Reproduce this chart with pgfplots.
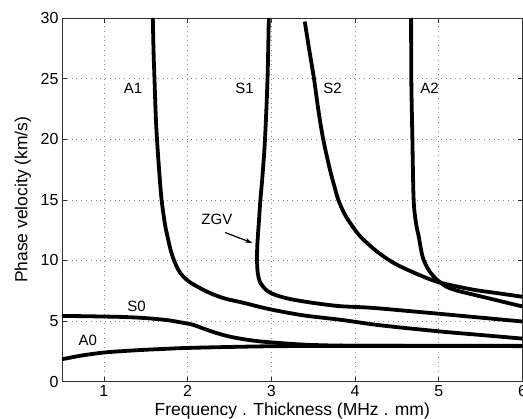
\documentclass[border=0pt]{standalone}
\usepackage{fontspec}
\setmainfont{Liberation Sans}
\usepackage{pgfplots}
\pgfplotsset{compat=1.18}
\usetikzlibrary{calc,arrows.meta}

\begin{document}
\begin{tikzpicture}
\begin{axis}[
    scale only axis,
    width=461pt, height=364pt,
    xmin=0.5, xmax=6, ymin=0, ymax=30,
    xtick={1,2,3,4,5,6}, ytick={0,5,10,15,20,25,30},
    tick align=inside, tick pos=both,
    major tick length=5pt,
    axis line style={black!80, line width=0.7pt},
    every tick/.style={black!80, line width=0.6pt},
    grid=major,
    grid style={black!45, line width=0.6pt, dash pattern=on 0.8pt off 4pt},
    /pgf/number format/assume math mode=true,
    tick label style={font=\fontsize{16}{18}\selectfont},
    xlabel={Frequency . Thickness (MHz . mm)},
    ylabel={Phase velocity (km/s)},
    label style={font=\fontsize{17.5}{20}\selectfont},
    xlabel style={at={(axis description cs:0.5,-0.092)}, anchor=base},
    ylabel style={at={(axis description cs:-0.0846,0.5)}, anchor=center},
    every axis plot post/.append style={black, solid, mark=none, line width=3.8pt,
      line join=round, smooth, tension=0.55},
]
% A0
\addplot coordinates {(0.5,1.85)(0.6,1.98)(0.75,2.17)(1.0,2.40)(1.25,2.53)(1.5,2.63)
  (1.75,2.71)(2.0,2.78)(2.5,2.86)(3.0,2.92)(3.5,2.94)(4,2.95)(5,2.95)(6,2.95)};
% S0
\addplot coordinates {(0.5,5.42)(0.75,5.40)(1.0,5.37)(1.25,5.33)(1.5,5.24)(1.75,5.08)
  (1.95,4.85)(2.07,4.68)(2.2,4.35)(2.35,4.0)(2.5,3.72)(2.67,3.5)(2.85,3.33)(3.07,3.2)
  (3.4,3.05)(3.83,2.97)(4.5,2.95)(5,2.94)(6,2.93)};
% A1
\addplot coordinates {(1.585,30)(1.595,27)(1.605,25)(1.62,22)(1.635,20)(1.66,17.5)(1.69,15)
  (1.73,13)(1.76,12)(1.80,10.8)(1.85,9.8)(1.91,9.0)(1.99,8.4)(2.1,7.9)(2.27,7.3)(2.45,6.85)
  (2.67,6.5)(2.87,6.15)(3.07,5.85)(3.4,5.45)(3.83,5.1)(4.3,4.65)(5,4.15)(5.5,3.85)(6,3.55)};
% S1
\addplot coordinates {(2.97,30)(2.955,25)(2.925,20)(2.895,17)(2.87,15)(2.85,13)(2.835,11.5)
  (2.83,10.5)(2.832,9.5)(2.84,8.9)(2.86,8.3)(2.9,7.85)(2.96,7.45)(3.05,7.15)(3.2,6.85)
  (3.4,6.6)(3.6,6.4)(3.83,6.22)(4.18,6.1)(4.6,5.85)(5,5.6)(5.5,5.28)(6,4.96)};
% S2
\addplot coordinates {(3.40,29.7)(3.45,27.5)(3.51,25)(3.56,22.5)(3.62,20)(3.70,17.5)(3.75,16.2)
  (3.80,15)(3.87,13.9)(3.95,13.0)(4.06,12)(4.25,10.8)(4.46,9.8)(4.7,9.0)(5.0,8.2)
  (5.4,7.6)(5.7,7.3)(6,7.0)};
% A2
\addplot coordinates {(4.67,30)(4.672,25)(4.685,20)(4.70,15)(4.73,13)(4.76,12)(4.80,10.5)
  (4.84,9.7)(4.9,9.0)(4.98,8.4)(5.1,7.8)(5.25,7.45)(5.4,7.2)(5.7,6.7)(6,6.2)};

\begin{scope}[every node/.style={font=\fontsize{15}{17}\selectfont}]
\node at (axis cs:1.35,24.2) {A1};
\node at (axis cs:2.68,24.2) {S1};
\node at (axis cs:3.73,24.2) {S2};
\node at (axis cs:4.89,24.2) {A2};
\node at (axis cs:2.35,13.35) {ZGV};
\node at (axis cs:1.39,6.2) {S0};
\node at (axis cs:0.81,3.4) {A0};
\end{scope}
\draw[-{Stealth[length=7pt,width=5pt]}, line width=1.2pt] (axis cs:2.45,12.3) -- (axis cs:2.77,11.45);
\end{axis}
\pgfresetboundingbox
\path ($(current axis.south west)+(-62pt,-37pt)$) rectangle ($(current axis.north east)+(0.5pt,18pt)$);
\end{tikzpicture}
\end{document}
